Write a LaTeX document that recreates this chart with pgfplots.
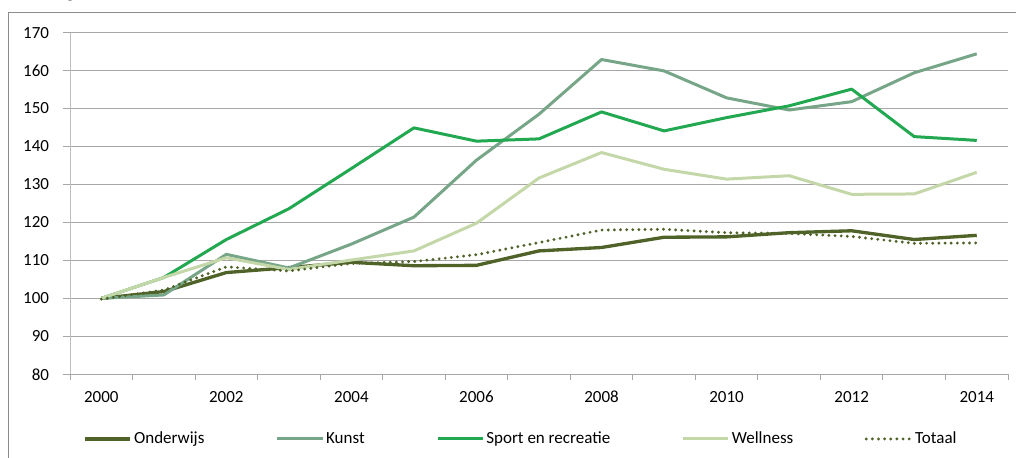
\documentclass[border=0pt]{standalone}
\usepackage{fontspec}
\setmainfont{Carlito}
\usepackage{pgfplots}
\pgfplotsset{compat=1.18}

\definecolor{onderwijs}{RGB}{79,98,40}
\definecolor{kunst}{RGB}{118,166,135}
\definecolor{sport}{RGB}{34,168,80}
\definecolor{wellness}{RGB}{196,215,168}
\definecolor{gridgray}{RGB}{166,166,166}
\definecolor{yaxisgray}{RGB}{190,190,190}
\definecolor{framegray}{RGB}{140,140,140}

\begin{document}
\begin{tikzpicture}
\useasboundingbox (0,0) rectangle (762pt,342.75pt);
% cut-off title and chart frame
\node[anchor=base east, inner sep=0pt, font=\bfseries\fontsize{15pt}{18pt}\selectfont]
  at (252.75pt,344.5pt) {Omzetontwikkeling naar branche (index 2000=100)};
\draw[framegray, line width=0.75pt] (6pt,-2pt) -- (6pt,333.4pt) -- (770pt,333.4pt);

\begin{axis}[
    scale only axis,
    width=703.5pt, height=256.35pt,
    at={(52.5pt,62pt)}, anchor=south west,
    xmin=1999.5, xmax=2014.5,
    ymin=80, ymax=170,
    xtick={2000,2002,...,2014},
    minor xtick={1999.5,2000.5,...,2014.5},
    ytick={80,90,...,170},
    xticklabel style={/pgf/number format/1000 sep={}},
    /pgf/number format/assume math mode=true,
    tick label style={font=\fontsize{12.75pt}{15pt}\selectfont, black},
    xticklabel style={inner sep=0pt, anchor=north, yshift=-7.25pt},
    yticklabel style={inner sep=0pt, anchor=east, xshift=-10.25pt},
    axis x line*=bottom, axis y line*=left,
    x axis line style={gridgray, line width=0.75pt},
    y axis line style={yaxisgray, line width=0.75pt},
    tick align=outside,
    major x tick style={draw=none},
    minor x tick style={gridgray, line width=0.75pt},
    major y tick style={gridgray, line width=0.75pt},
    major tick length=5.25pt, minor tick length=4pt,
    ymajorgrids, grid style={gridgray, line width=0.75pt},
    legend columns=5,
    legend style={at={(0.014,-0.189)}, anchor=west, draw=none, fill=none,
        inner sep=0pt, font=\fontsize{12.75pt}{15pt}\selectfont,
        nodes={inner sep=1.5pt},
        /tikz/every even column/.append style={column sep=52pt}},
    legend image code/.code={\draw[#1] (0pt,0pt) -- (34pt,0pt);},
]
\addplot[onderwijs, line width=2.5pt, line join=round] coordinates {
(2000,100)(2001,101.8)(2002,106.8)(2003,108.1)(2004,109.5)(2005,108.6)(2006,108.7)
(2007,112.5)(2008,113.4)(2009,116.1)(2010,116.2)(2011,117.3)(2012,117.8)(2013,115.5)(2014,116.6)};
\addlegendentry{Onderwijs}
\addplot[kunst, line width=2.25pt, line join=round] coordinates {
(2000,100)(2001,100.9)(2002,111.6)(2003,108.0)(2004,114.3)(2005,121.4)(2006,136.4)
(2007,148.5)(2008,162.9)(2009,159.9)(2010,152.8)(2011,149.6)(2012,151.8)(2013,159.4)(2014,164.4)};
\addlegendentry{Kunst}
\addplot[sport, line width=2.25pt, line join=round] coordinates {
(2000,100)(2001,105.5)(2002,115.5)(2003,123.6)(2004,134.2)(2005,144.9)(2006,141.4)
(2007,142.0)(2008,149.1)(2009,144.1)(2010,147.6)(2011,150.7)(2012,155.1)(2013,142.6)(2014,141.6)};
\addlegendentry{Sport en recreatie}
\addplot[wellness, line width=2.25pt, line join=round] coordinates {
(2000,100)(2001,105.5)(2002,110.7)(2003,107.6)(2004,110.1)(2005,112.5)(2006,119.8)
(2007,131.7)(2008,138.4)(2009,134.0)(2010,131.4)(2011,132.3)(2012,127.4)(2013,127.5)(2014,133.2)};
\addlegendentry{Wellness}
\addplot[onderwijs, line width=2.4pt, line cap=round, dash pattern=on 0pt off 4.6pt] coordinates {
(2000,99.8)(2001,102.2)(2002,108.3)(2003,107.2)(2004,109.2)(2005,109.7)(2006,111.5)
(2007,114.7)(2008,118.0)(2009,118.2)(2010,117.3)(2011,117.1)(2012,116.3)(2013,114.5)(2014,114.6)};
\addlegendentry{Totaal}
\end{axis}
\end{tikzpicture}
\end{document}
